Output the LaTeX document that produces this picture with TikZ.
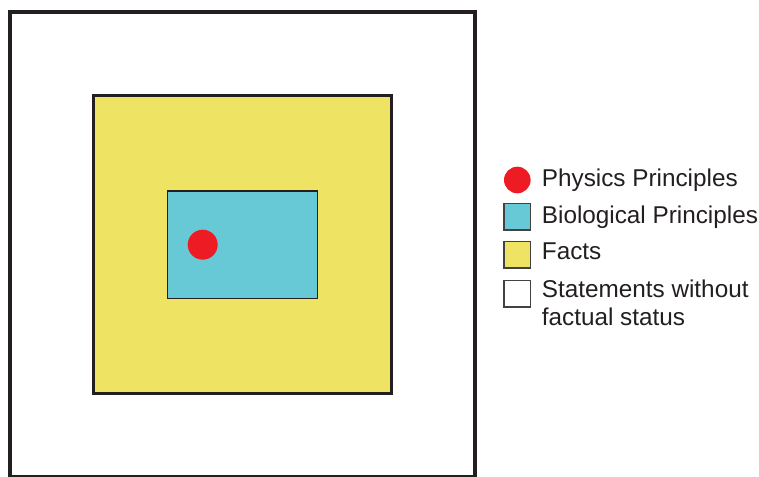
\documentclass[tikz,border=0pt]{standalone}
\usepackage{fontspec}
\setmainfont{Liberation Sans}
\definecolor{factyellow}{RGB}{238,227,98}
\definecolor{biocyan}{RGB}{104,201,214}
\definecolor{physred}{RGB}{237,28,36}
\definecolor{edgegray}{RGB}{35,31,32}
\begin{document}
\begin{tikzpicture}[x=1pt,y=1pt,
  region/.style={draw=edgegray},
  legbox/.style={draw=edgegray!85,line width=1.5pt,minimum size=26.5pt,inner sep=0pt},
  legtext/.style={anchor=base west,inner sep=0pt,align=left,font=\fontsize{24.3}{28.7}\selectfont,text=edgegray}]
\clip (0,0) rectangle (759,476);
\begin{scope}[yshift=476pt,y=-1pt]
% regions
\draw[region,line width=4pt,fill=white] (10.3,12.5) rectangle (474.7,476.8);
\draw[region,line width=3pt,fill=factyellow] (93.8,95.3) rectangle (391,394);
\draw[region,line width=1.7pt,fill=biocyan] (167.5,191) rectangle (317.5,298.5);
\node[circle,fill=physred,minimum size=30pt,inner sep=0pt] (phys) at (202.7,244.7) {};
% legend
\node[circle,fill=physred,minimum size=26.6pt,inner sep=0pt] (lphys) at (517.3,180) {};
\node[legbox,fill=biocyan] (lbio) at (517,216.7) {};
\node[legbox,fill=factyellow] (lfact) at (517,255) {};
\node[legbox,fill=white] (lstat) at (517,294) {};
\node[legtext] (tphys) at (541.7,186.7) {Physics Principles};
\node[legtext] (tbio) at (541.7,223.3) {Biological Principles};
\node[legtext] (tfact) at (541.7,260) {Facts};
\node[legtext] (tstat) at (541.7,326) {Statements without\\factual status};
\end{scope}
\end{tikzpicture}
\end{document}
